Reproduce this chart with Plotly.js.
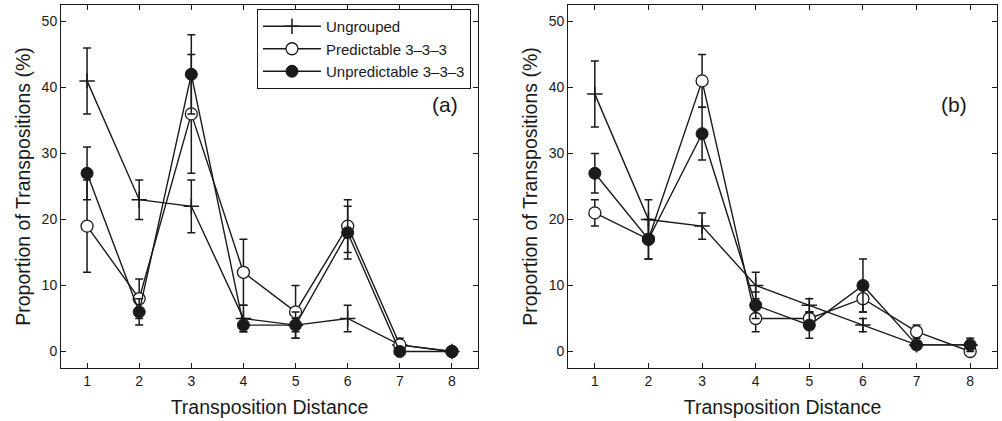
<!DOCTYPE html>
<html><head><meta charset="utf-8">
<script src="https://cdn.plot.ly/plotly-3.0.1.min.js"></script>
<style>html,body{margin:0;padding:0;background:#fff}</style>
</head><body><div id="chart" style="width:1002px;height:421px"></div>
<script>
const distances = [1,2,3,4,5,6,7,8];
const seriesNames = ["Ungrouped","Predictable 3\u20133\u20133","Unpredictable 3\u20133\u20133"];
// Panel (a)
const aUngrouped = [41,23,22,5,4,5,1,0];
const aUngroupedErr = [5,3,4,2,1,2,0,0];
const aPredictable = [19,8,36,12,6,19,1,0];
const aPredictableErr = [7,3,9,5,4,4,1,0];
const aUnpredictable = [27,6,42,4,4,18,0,0];
const aUnpredictableErr = [4,2,6,1,2,4,0,0];
// Panel (b)
const bUngrouped = [39,20,19,10,7,4,1,1];
const bUngroupedErr = [5,3,2,2,1,1,0,0];
const bPredictable = [21,17,41,5,5,8,3,0];
const bPredictableErr = [2,3,4,2,1,2,1,0];
const bUnpredictable = [27,17,33,7,4,10,1,1];
const bUnpredictableErr = [3,3,4,2,2,4,0,1];
const yTicks = [0,10,20,30,40,50];
const panelLabels = ['(a)','(b)'];

const ink = '#1a1a1a';
const font = 'Liberation Sans, Arial, sans-serif';

function mk(y, err, kind, xa, ya, show) {
  let marker;
  if (kind === 0) marker = {symbol:'cross-thin', size:11, color:ink, line:{color:ink, width:1.5}};
  else if (kind === 1) marker = {symbol:'circle', size:12, color:'#fff', line:{color:ink, width:1.3}};
  else marker = {symbol:'circle', size:12, color:ink, line:{color:ink, width:1}};
  return {
    x: distances, y: y, type:'scatter', mode:'lines+markers',
    name: seriesNames[kind], showlegend: show,
    xaxis: xa, yaxis: ya,
    line:{color:ink, width:1.4},
    marker: marker,
    error_y:{type:'data', array:err, visible:true, color:ink, thickness:1.5, width:4}
  };
}

const data = [
  mk(aUngrouped, aUngroupedErr, 0, 'x', 'y', true),
  mk(aPredictable, aPredictableErr, 1, 'x', 'y', true),
  mk(aUnpredictable, aUnpredictableErr, 2, 'x', 'y', true),
  mk(bUngrouped, bUngroupedErr, 0, 'x2', 'y2', false),
  mk(bPredictable, bPredictableErr, 1, 'x2', 'y2', false),
  mk(bUnpredictable, bUnpredictableErr, 2, 'x2', 'y2', false)
];

function xax(domain, anchor) {
  return {domain:domain, anchor:anchor, range:[0.5,8.5], tickvals:distances,
    ticks:'inside', ticklen:5, tickcolor:ink, tickwidth:1,
    showline:true, linecolor:ink, linewidth:1, mirror:'ticks', showgrid:false, zeroline:false,
    tickfont:{family:font, size:14, color:ink},
    title:{text:'Transposition Distance', font:{family:font, size:19.5, color:ink}, standoff:12}};
}
function yax(anchor) {
  return {domain:[0,1], anchor:anchor, range:[-2.5,52.5], tickvals:yTicks,
    ticks:'inside', ticklen:5, tickcolor:ink, tickwidth:1,
    showline:true, linecolor:ink, linewidth:1, mirror:'ticks', showgrid:false, zeroline:false,
    tickfont:{family:font, size:14, color:ink},
    title:{text:'Proportion of Transpositions (%)', font:{family:font, size:19.5, color:ink}, standoff:5}};
}

const layout = {
  width:1002, height:421,
  margin:{l:61, r:5, t:5, b:53},
  paper_bgcolor:'#fff', plot_bgcolor:'#fff',
  font:{family:font, color:ink},
  xaxis: xax([0,0.4455],'y'),
  yaxis: yax('x'),
  xaxis2: xax([0.5417,1],'y2'),
  yaxis2: yax('x2'),
  showlegend:true,
  legend:{x:0.438, y:0.989, xanchor:'right', yanchor:'top', bgcolor:'#fff',
    bordercolor:ink, borderwidth:1, font:{family:font, size:15, color:ink},
    itemwidth:58, tracegroupgap:0},
  annotations:[
    {xref:'x domain', yref:'y domain', x:0.921, y:0.725, xanchor:'center', yanchor:'middle',
     text:panelLabels[0], showarrow:false, font:{family:font, size:21, color:ink}},
    {xref:'x2 domain', yref:'y2 domain', x:0.899, y:0.725, xanchor:'center', yanchor:'middle',
     text:panelLabels[1], showarrow:false, font:{family:font, size:21, color:ink}}
  ]
};

Plotly.newPlot('chart', data, layout, {displayModeBar:false, staticPlot:true});
</script>
</body></html>
